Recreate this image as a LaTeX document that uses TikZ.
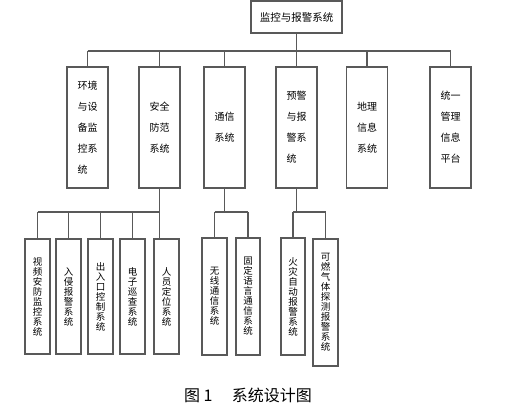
\documentclass[tikz,border=0pt]{standalone}
\usepackage{fontspec}
\newfontfamily\cjk{Noto Sans CJK SC}
\begin{document}
\begin{tikzpicture}[x=1pt, y=-1pt,
    boxline/.style={draw=black!65, line width=1.4pt, rectangle, inner sep=0pt},
    rootbox/.style={boxline, minimum width=91pt, minimum height=32pt, font=\cjk\fontsize{10.5}{12}\selectfont},
    subbox/.style={boxline, minimum width=41pt, minimum height=121pt, align=left, font=\cjk\fontsize{10}{21}\selectfont},
    leafbox/.style={boxline, minimum width=25pt, minimum height=115pt, align=center, font=\cjk\fontsize{9.5}{10}\selectfont},
    link/.style={draw=black!65, line width=1.4pt}]
  \useasboundingbox (0,0) rectangle (509,418);
  \node[rootbox] (root) at (296.5,17) {监控与报警系统};
  \node[subbox] (env) at (87.5,127.5) {环境\\与设\\备监\\控系\\统};
  \node[subbox] (safe) at (159.5,127.5) {安全\\防范\\系统};
  \node[subbox] (comm) at (224.5,127.5) {通信\\系统};
  \node[subbox] (warn) at (296.5,127.5) {预警\\与报\\警系\\统};
  \node[subbox] (geo) at (367,127.5) {地理\\信息\\系统};
  \node[subbox] (plat) at (450.5,127.5) {统一\\管理\\信息\\平台};
  \node[leafbox] (video) at (37.5,296.5) {视\\频\\安\\防\\监\\控\\系\\统};
  \node[leafbox] (intru) at (68.5,296.5) {入\\侵\\报\\警\\系\\统};
  \node[leafbox] (access) at (100.5,296.5) {出\\入\\口\\控\\制\\系\\统};
  \node[leafbox] (patrol) at (132.5,296.5) {电\\子\\巡\\查\\系\\统};
  \node[leafbox] (locate) at (166.5,296.5) {人\\员\\定\\位\\系\\统};
  \node[leafbox, minimum height=117pt] (wireless) at (214.5,296.5) {无\\线\\通\\信\\系\\统};
  \node[leafbox, minimum height=117pt, minimum width=24pt] (fixed) at (248,296.5) {固\\定\\语\\言\\通\\信\\系\\统};
  \node[leafbox, minimum height=117pt, minimum width=24pt] (fire) at (293,296.5) {火\\灾\\自\\动\\报\\警\\系\\统};
  \node[leafbox, minimum height=127pt] (gas) at (325.5,302.5) {可\\燃\\气\\体\\探\\测\\报\\警\\系\\统};
  \node[font=\cjk\fontsize{16}{16}\selectfont] (cap) at (248,395) {图~1\hspace{1.2em}系统设计图};
  \coordinate (topbus) at (296.5,51);
  \coordinate (lowbus) at (0,212);
  \draw[link] (root.south) -- (topbus);
  \draw[link] (topbus -| env) -- (topbus -| plat);
  \foreach \n in {env,safe,comm,warn,geo,plat}
    \draw[link] (topbus -| \n) -- (\n.north);
  \draw[link] (safe.south) -- (safe.south |- locate.north);
  \draw[link] (lowbus -| video) -- (lowbus -| safe);
  \foreach \n in {video,intru,access,patrol}
    \draw[link] (lowbus -| \n) -- (\n.north);
  \draw[link] (comm.south) -- (comm.south |- lowbus);
  \draw[link] (lowbus -| wireless) -- (lowbus -| fixed);
  \foreach \n in {wireless,fixed}
    \draw[link] (lowbus -| \n) -- (\n.north);
  \draw[link] (warn.south) -- (warn.south |- lowbus);
  \draw[link] (lowbus -| fire) -- (lowbus -| gas);
  \foreach \n in {fire,gas}
    \draw[link] (lowbus -| \n) -- (\n.north);
\end{tikzpicture}
\end{document}
